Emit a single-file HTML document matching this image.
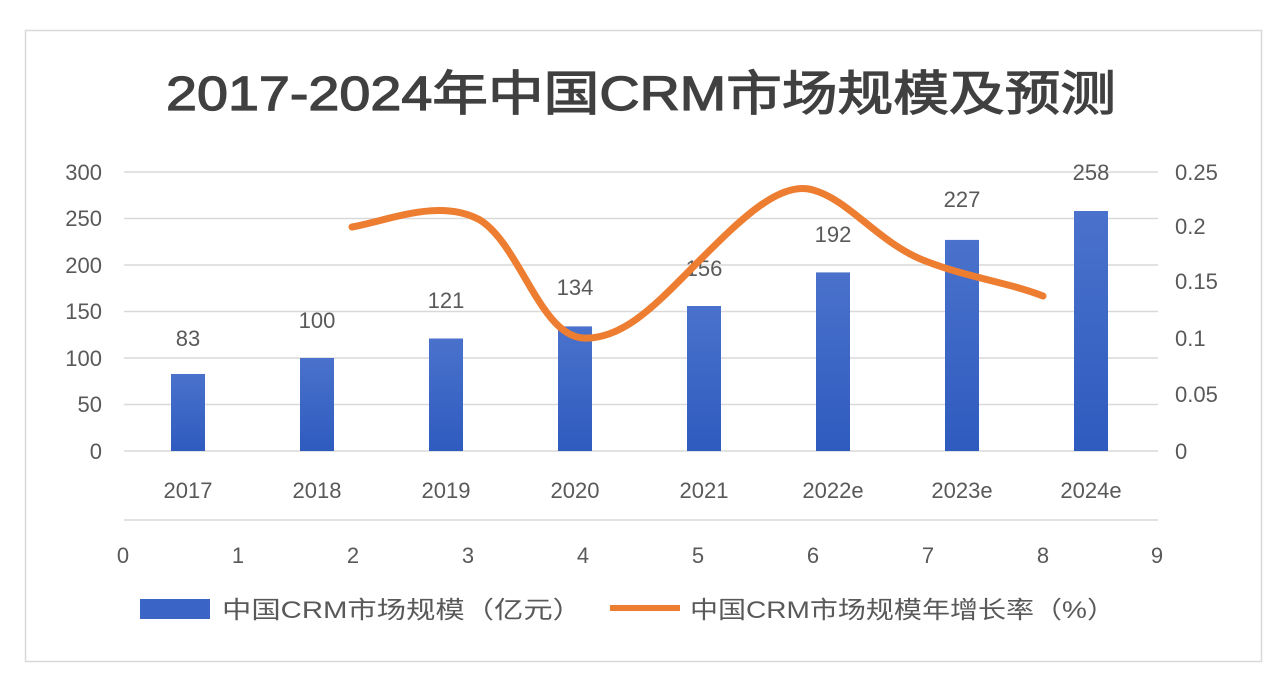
<!DOCTYPE html>
<html><head><meta charset="utf-8"><style>
html,body{margin:0;padding:0;background:#fff;}
svg{display:block;}
text{font-family:"Liberation Sans","Noto Sans CJK SC",sans-serif;fill:#595959;}
</style></head><body>
<svg width="1276" height="674" viewBox="0 0 1276 674" xmlns="http://www.w3.org/2000/svg">
<defs>
<linearGradient id="bg" x1="0" y1="0" x2="0" y2="1">
<stop offset="0" stop-color="#4a72cc"/><stop offset="1" stop-color="#2f5bbf"/>
</linearGradient>
</defs>
<rect x="0" y="0" width="1276" height="674" fill="#fff"/>
<rect x="25.5" y="30.5" width="1236" height="631" fill="#fff" stroke="#d9d9d9" stroke-width="1.5"/>
<text x="166" y="110" font-size="48" textLength="950" lengthAdjust="spacingAndGlyphs" style="fill:#404040;stroke:#404040;stroke-width:1.2">2017-2024年中国CRM市场规模及预测</text>
<g stroke="#d9d9d9" stroke-width="1.5">
<line x1="124" y1="172" x2="1158" y2="172"/>
<line x1="124" y1="218.5" x2="1158" y2="218.5"/>
<line x1="124" y1="265" x2="1158" y2="265"/>
<line x1="124" y1="311.5" x2="1158" y2="311.5"/>
<line x1="124" y1="358" x2="1158" y2="358"/>
<line x1="124" y1="404.5" x2="1158" y2="404.5"/>
<line x1="124" y1="451" x2="1158" y2="451"/>
<line x1="124" y1="520" x2="1158" y2="520"/>
</g>
<g font-size="22" text-anchor="end">
<text x="102" y="180">300</text><text x="102" y="226">250</text><text x="102" y="273">200</text>
<text x="102" y="319">150</text><text x="102" y="366">100</text><text x="102" y="412">50</text><text x="102" y="459">0</text>
</g>
<g font-size="22" text-anchor="start">
<text x="1175" y="180">0.25</text><text x="1175" y="234">0.2</text><text x="1175" y="289">0.15</text>
<text x="1175" y="346">0.1</text><text x="1175" y="402">0.05</text><text x="1175" y="459">0</text>
</g>
<g fill="url(#bg)">
<rect x="171" y="374" width="34" height="77"/>
<rect x="300" y="358" width="34" height="93"/>
<rect x="429" y="338.5" width="34" height="112.5"/>
<rect x="558" y="326.4" width="34" height="124.6"/>
<rect x="687" y="306" width="34" height="145"/>
<rect x="816" y="272.4" width="34" height="178.6"/>
<rect x="945" y="239.9" width="34" height="211.1"/>
<rect x="1074" y="211" width="34" height="240"/>
</g>
<g font-size="22" text-anchor="middle">
<text x="188" y="346">83</text><text x="317" y="328">100</text><text x="446" y="308">121</text>
<text x="575" y="295">134</text><text x="704" y="276">156</text><text x="833" y="242">192</text>
<text x="962" y="207">227</text><text x="1091" y="180">258</text>
<text x="188" y="498">2017</text><text x="317" y="498">2018</text><text x="446" y="498">2019</text>
<text x="575" y="498">2020</text><text x="704" y="498">2021</text><text x="833" y="498">2022e</text>
<text x="962" y="498">2023e</text><text x="1091" y="498">2024e</text>
</g>
<g font-size="22" text-anchor="middle">
<text x="123" y="563">0</text><text x="238" y="563">1</text><text x="353" y="563">2</text><text x="468" y="563">3</text>
<text x="583" y="563">4</text><text x="698" y="563">5</text><text x="813" y="563">6</text><text x="928" y="563">7</text>
<text x="1043" y="563">8</text><text x="1157" y="563">9</text>
</g>
<path d="M352,227 C390,220 440,198 480,220 C520,245 540,335 583,338 C625,340 660,300 698,262 C740,220 780,180 813,190 C850,200 880,245 928,262 C970,278 1010,283 1043,296" fill="none" stroke="#ed7d31" stroke-width="7" stroke-linecap="round"/>
<rect x="140" y="599" width="70" height="20" fill="#3a64c6"/>
<text x="222" y="618" font-size="24" textLength="360" lengthAdjust="spacingAndGlyphs">中国CRM市场规模（亿元）</text>
<line x1="610" y1="608" x2="680" y2="608" stroke="#ed7d31" stroke-width="6"/>
<text x="690" y="618" font-size="24" textLength="425" lengthAdjust="spacingAndGlyphs">中国CRM市场规模年增长率（%）</text>
</svg>
</body></html>
